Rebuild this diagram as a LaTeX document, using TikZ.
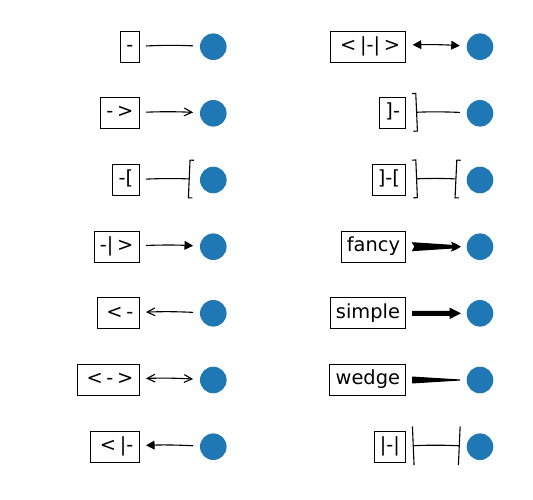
\documentclass[tikz,border=0pt]{standalone}
\usepackage{fontspec}
\setmainfont{DejaVu Sans}
\usetikzlibrary{arrows.meta, positioning, calc}
\definecolor{tabblue}{RGB}{31, 119, 180}
\newcommand{\rel}[1]{\hspace{3.6pt}#1\hspace{3.6pt}}

\begin{document}
\begin{tikzpicture}[x=1pt, y=1pt,
  lbl/.style={draw=black, line width=1pt, fill=white, anchor=east, inner xsep=5.8pt, inner ysep=5.8pt, text height=14.4pt, text depth=5pt, outer sep=0pt, font=\fontsize{19.4}{23}\selectfont},
  dot/.style={circle, fill=tabblue, minimum size=26.6pt, inner sep=0pt, outer sep=0pt},
  conn/.style={line width=1.1pt, shorten <=6.9pt, shorten >=6.9pt, bend left=2.5},
  fatarrow/.style={fill=black, draw=black, line width=1.1pt, line join=miter},
  chev/.tip={Straight Barb[length=7.8pt, width=7.8pt]},
  tri/.tip={Triangle[length=8.6pt, width=8.8pt]},
  brk/.tip={Bracket[reversed, length=3.9pt, width=38.8pt]},
  tbar/.tip={Bar[width=38.8pt]}
]
  \useasboundingbox (0,0) rectangle (533,-500);

  % left column
  \node[lbl] (s1) at (139.1,-46.7) {-};
  \node[dot] (d1) at (213.3,-46.7) {};
  \node[lbl] (s2) at (139.1,-113.3) {-\rel{>}};
  \node[dot] (d2) at (213.3,-113.3) {};
  \node[lbl] (s3) at (139.1,-180) {-[};
  \node[dot] (d3) at (213.3,-180) {};
  \node[lbl] (s4) at (139.1,-246.7) {-|\rel{>}};
  \node[dot] (d4) at (213.3,-246.7) {};
  \node[lbl] (s5) at (139.1,-313.3) {\rel{<}-};
  \node[dot] (d5) at (213.3,-313.3) {};
  \node[lbl] (s6) at (139.1,-380) {\rel{<}-\rel{>}};
  \node[dot] (d6) at (213.3,-380) {};
  \node[lbl] (s7) at (139.1,-446.7) {\rel{<}|-};
  \node[dot] (d7) at (213.3,-446.7) {};

  % right column
  \node[lbl] (s8) at (405.8,-46.7) {\rel{<}|-|\rel{>}};
  \node[dot] (d8) at (480,-46.7) {};
  \node[lbl] (s9) at (405.8,-113.3) {]-};
  \node[dot] (d9) at (480,-113.3) {};
  \node[lbl] (s10) at (405.8,-180) {]-[};
  \node[dot] (d10) at (480,-180) {};
  \node[lbl] (s11) at (405.8,-246.7) {fancy};
  \node[dot] (d11) at (480,-246.7) {};
  \node[lbl] (s12) at (405.8,-313.3) {simple};
  \node[dot] (d12) at (480,-313.3) {};
  \node[lbl] (s13) at (405.8,-380) {wedge};
  \node[dot] (d13) at (480,-380) {};
  \node[lbl] (s14) at (405.8,-446.7) {|-|};
  \node[dot] (d14) at (480,-446.7) {};

  % line styles
  \draw[conn] (s1) to (d1);
  \draw[conn, -chev] (s2) to (d2);
  \draw[conn, -brk] (s3) to (d3);
  \draw[conn, -tri] (s4) to (d4);
  \draw[conn, chev-] (s5) to (d5);
  \draw[conn, chev-chev] (s6) to (d6);
  \draw[conn, tri-] (s7) to (d7);
  \draw[conn, tri-tri] (s8) to (d8);
  \draw[conn, brk-] (s9) to (d9);
  \draw[conn, brk-brk] (s10) to (d10);
  \draw[conn, tbar-tbar] (s14) to (d14);

  % filled styles
  \coordinate (fa) at ($(s11.east)+(6.9,0)$);
  \coordinate (fb) at ($(d11.west)+(-6.9,0)$);
  \filldraw[fatarrow] ($(fa)+(0,3.9)$) -- ($(fb)+(-6.2,1.2)$) -- ($(fb)+(-7.8,3.9)$)
    .. controls ($(fb)+(-5.2,3.1)$) and ($(fb)+(-2.6,1.8)$) .. (fb)
    .. controls ($(fb)+(-2.6,-1.8)$) and ($(fb)+(-5.2,-3.1)$) .. ($(fb)+(-7.8,-3.9)$)
    -- ($(fb)+(-6.2,-1.2)$) -- ($(fa)+(0,-3.9)$) -- ($(fa)+(2.3,0)$) -- cycle;
  \coordinate (sa) at ($(s12.east)+(6.9,0)$);
  \coordinate (sb) at ($(d12.west)+(-6.9,0)$);
  \filldraw[fatarrow] ($(sa)+(0,1.95)$) -- ($(sb)+(-9.7,1.95)$) -- ($(sb)+(-9.7,4.85)$) -- (sb)
    -- ($(sb)+(-9.7,-4.85)$) -- ($(sb)+(-9.7,-1.95)$) -- ($(sa)+(0,-1.95)$) -- cycle;
  \coordinate (wa) at ($(s13.east)+(6.9,0)$);
  \coordinate (wb) at ($(d13.west)+(-6.9,0)$);
  \filldraw[fatarrow] ($(wa)+(0,2.9)$) -- (wb) -- ($(wa)+(0,-2.9)$) -- cycle;
\end{tikzpicture}
\end{document}
